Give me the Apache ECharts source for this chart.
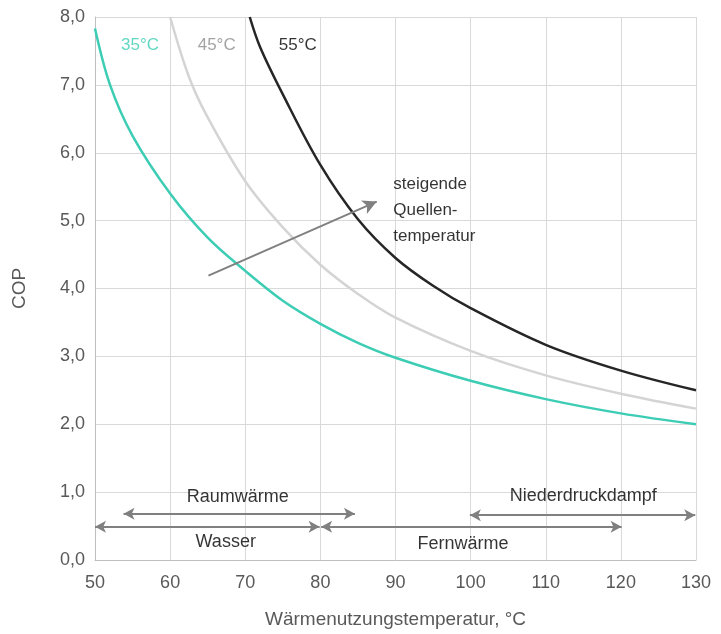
<!DOCTYPE html>
<html lang="de">

<head>
    <meta charset="UTF-8">
    <script src="https://cdn.jsdelivr.net/npm/echarts@6/dist/echarts.min.js"></script>
    <style>
        html, body { margin: 0; padding: 0; background: #fff; }
        #chart { width: 721px; height: 634px; }
    </style>
    <title>COP</title>
</head>

<body>
    <div id="chart"></div>
    <script type="text/javascript">
        // Quellentemperatur-Kurven: [Wärmenutzungstemperatur, COP]
        var cop35 = [[50, 7.83], [52, 7.0], [55, 6.25], [60, 5.4], [65, 4.75], [70, 4.26], [75, 3.82], [80, 3.48],
            [85, 3.2], [90, 2.98], [100, 2.64], [110, 2.37], [120, 2.16], [130, 2.0]];
        var cop45 = [[60, 8.0], [62.5, 7.12], [65, 6.52], [70, 5.58], [75, 4.9], [80, 4.35], [85, 3.92],
            [90, 3.57], [100, 3.08], [110, 2.72], [120, 2.45], [130, 2.23]];
        var cop55 = [[70.6, 8.0], [72, 7.55], [75, 6.86], [80, 5.82], [85, 5.02], [90, 4.45], [95, 4.04],
            [100, 3.71], [110, 3.17], [120, 2.79], [130, 2.5]];

        var xTicks = [50, 60, 70, 80, 90, 100, 110, 120, 130];
        var yTicks = [0, 1, 2, 3, 4, 5, 6, 7, 8];

        // Bereiche (Doppelpfeile) unten
        var ranges = [
            { name: 'Raumwärme', from: 53.8, to: 84.6, y: 0.68 },
            { name: 'Wasser', from: 50, to: 79.9, y: 0.49 },
            { name: 'Fernwärme', from: 80.1, to: 120.1, y: 0.49 },
            { name: 'Niederdruckdampf', from: 99.9, to: 129.9, y: 0.66 }
        ];
        var rangeLabels = [
            ['Raumwärme', 69.0, 0.93],
            ['Wasser', 67.4, 0.26],
            ['Fernwärme', 99.0, 0.24],
            ['Niederdruckdampf', 115.0, 0.94]
        ];
        var curveLabels = [
            ['35°C', 56.0, 7.58, '#3ccdb4'],
            ['45°C', 66.2, 7.58, '#8c8c8c'],
            ['55°C', 77.0, 7.58, '#000000']
        ];
        var trendArrow = [[65.1, 4.19], [87.5, 5.28]];
        var trendText = ['steigende', 'Quellen-', 'temperatur'];

        var chart = echarts.init(document.getElementById('chart'), null, { renderer: 'canvas' });
        var font = 'Liberation Sans, Arial, sans-serif';

        var option = {
            animation: false,
            textStyle: { fontFamily: font },
            grid: { left: 95, right: 25, top: 17, bottom: 73 },
            xAxis: {
                type: 'value',
                min: 50, max: 130, interval: 10,
                name: 'Wärmenutzungstemperatur, °C',
                nameLocation: 'middle',
                nameGap: 50,
                nameTextStyle: { color: '#595959', fontSize: 19, fontFamily: font },
                axisLine: { show: true, lineStyle: { color: '#bfbfbf', width: 1 } },
                axisTick: { show: false },
                axisLabel: {
                    color: '#595959', fontSize: 18, margin: 14, fontFamily: font,
                    formatter: function (v) { return xTicks.indexOf(v) >= 0 ? String(v) : ''; }
                },
                splitLine: { show: true, lineStyle: { color: '#d9d9d9', width: 1 } }
            },
            yAxis: {
                type: 'value',
                min: 0, max: 8, interval: 1,
                name: 'COP',
                nameLocation: 'middle',
                nameGap: 66,
                nameRotate: 90,
                nameTextStyle: { color: '#595959', fontSize: 19, fontFamily: font },
                axisLine: { show: true, lineStyle: { color: '#bfbfbf', width: 1 } },
                axisTick: { show: false },
                axisLabel: {
                    color: '#595959', fontSize: 18, margin: 10, fontFamily: font,
                    formatter: function (v) { return yTicks.indexOf(v) >= 0 ? v.toFixed(1).replace('.', ',') : ''; }
                },
                splitLine: { show: true, lineStyle: { color: '#d9d9d9', width: 1 } }
            },
            series: [
                {
                    name: '35°C', type: 'line', data: cop35, smooth: 0.35,
                    showSymbol: false, lineStyle: { color: '#3ccdb4', width: 2.5 }, clip: true
                },
                {
                    name: '45°C', type: 'line', data: cop45, smooth: 0.35,
                    showSymbol: false, lineStyle: { color: '#d4d4d4', width: 2.5 }, clip: true
                },
                {
                    name: '55°C', type: 'line', data: cop55, smooth: 0.35,
                    showSymbol: false, lineStyle: { color: '#262626', width: 2.5 }, clip: true
                },
                {
                    // Pfeile
                    type: 'line', data: [], silent: true,
                    markLine: {
                        silent: true,
                        animation: false,
                        symbol: ['arrow', 'arrow'],
                        symbolSize: [9, 11],
                        label: { show: false },
                        lineStyle: { color: '#808080', width: 2, type: 'solid' },
                        data: ranges.map(function (r) {
                            return [{ coord: [r.from, r.y] }, { coord: [r.to, r.y] }];
                        }).concat([[
                            { coord: trendArrow[0], symbol: 'none' },
                            { coord: trendArrow[1], symbol: 'arrow', symbolSize: [11, 14] }
                        ]])
                    }
                },
                {
                    // Beschriftungen
                    type: 'scatter', symbolSize: 0, silent: true,
                    data: rangeLabels.map(function (d) {
                        return {
                            value: [d[1], d[2]],
                            label: { show: true, position: 'inside', formatter: d[0], color: '#000', fontSize: 18, fontFamily: font }
                        };
                    }).concat(curveLabels.map(function (d) {
                        return {
                            value: [d[1], d[2]],
                            label: { show: true, position: 'inside', formatter: d[0], color: d[3], fontSize: 17, fontFamily: font }
                        };
                    })).concat([{
                        value: [89.7, 5.15],
                        label: {
                            show: true, position: 'right', distance: 0, formatter: trendText.join('\n'),
                            color: '#000', fontSize: 17, lineHeight: 26, align: 'left', fontFamily: font
                        }
                    }])
                }
            ]
        };

        chart.setOption(option);
    </script>
</body>

</html>
